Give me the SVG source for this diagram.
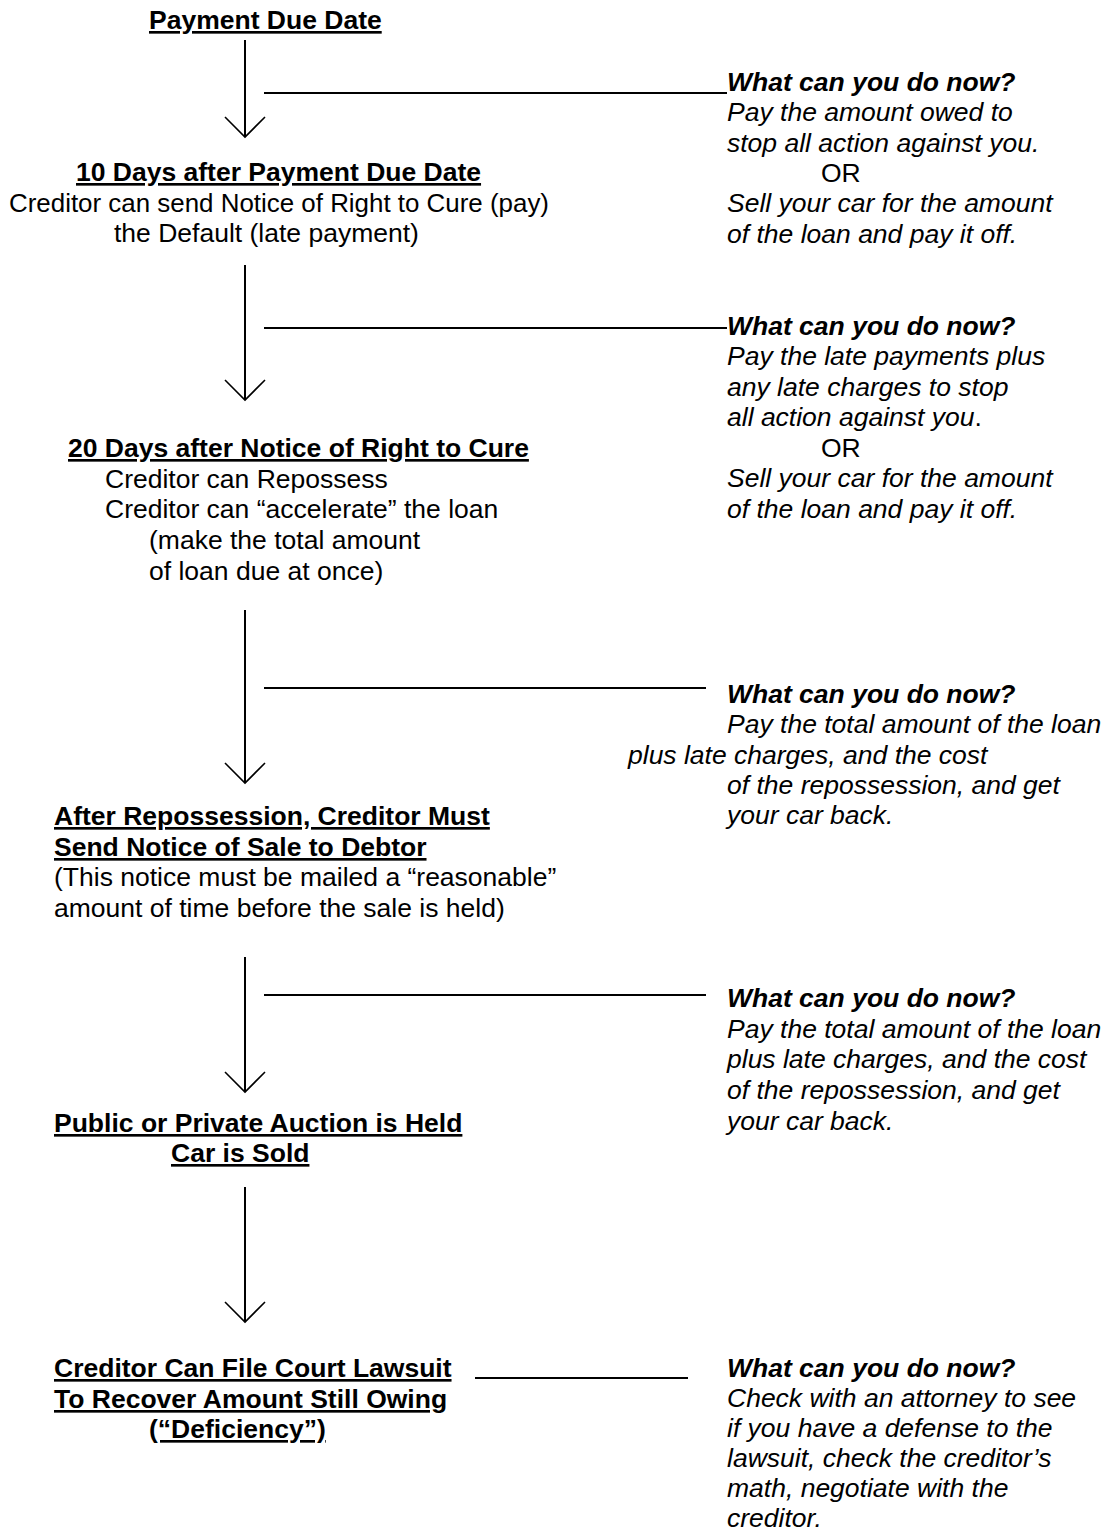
<svg xmlns="http://www.w3.org/2000/svg" width="1109" height="1532" viewBox="0 0 1109 1532">
<style>
text{font-family:"Liberation Sans",Arial,sans-serif;font-size:26.5px;fill:#000}
.b{font-weight:bold;text-decoration:underline}
.i{font-style:italic}
.bi{font-style:italic;font-weight:bold}
.ln{stroke:#000;stroke-width:2;fill:none}
.hd{stroke:#000;stroke-width:1.6;fill:none}
</style>
<rect width="1109" height="1532" fill="#fff"/>
<g id="connectors">
<line class="ln" x1="245" y1="40" x2="245" y2="137"/>
<polyline class="hd" points="225,117 245,137 265,117"/>
<line class="ln" x1="264" y1="93" x2="727" y2="93"/>
<line class="ln" x1="245" y1="265" x2="245" y2="400"/>
<polyline class="hd" points="225,380 245,400 265,380"/>
<line class="ln" x1="264" y1="328" x2="727" y2="328"/>
<line class="ln" x1="245" y1="610" x2="245" y2="783"/>
<polyline class="hd" points="225,763 245,783 265,763"/>
<line class="ln" x1="264" y1="688" x2="706" y2="688"/>
<line class="ln" x1="245" y1="957" x2="245" y2="1092"/>
<polyline class="hd" points="225,1072 245,1092 265,1072"/>
<line class="ln" x1="264" y1="995" x2="706" y2="995"/>
<line class="ln" x1="245" y1="1187" x2="245" y2="1322"/>
<polyline class="hd" points="225,1302 245,1322 265,1302"/>
<line class="ln" x1="475" y1="1378" x2="688" y2="1378"/>
</g>
<g id="n1"><text class="b" x="149" y="29">Payment Due Date</text></g>
<g id="n2">
<text class="b" x="76" y="181">10 Days after Payment Due Date</text>
<text x="9" y="212" textLength="540" lengthAdjust="spacingAndGlyphs">Creditor can send Notice of Right to Cure (pay)</text>
<text x="114" y="242">the Default (late payment)</text>
</g>
<g id="n3">
<text class="b" x="68" y="457">20 Days after Notice of Right to Cure</text>
<text x="105" y="488">Creditor can Repossess</text>
<text x="105" y="518">Creditor can “accelerate” the loan</text>
<text x="149" y="549">(make the total amount</text>
<text x="149" y="580">of loan due at once)</text>
</g>
<g id="n4">
<text class="b" x="54" y="825">After Repossession, Creditor Must</text>
<text class="b" x="54" y="856">Send Notice of Sale to Debtor</text>
<text x="54" y="886">(This notice must be mailed a “reasonable”</text>
<text x="54" y="917">amount of time before the sale is held)</text>
</g>
<g id="n5">
<text class="b" x="54" y="1132">Public or Private Auction is Held</text>
<text class="b" x="171" y="1162">Car is Sold</text>
</g>
<g id="n6">
<text class="b" x="54" y="1377">Creditor Can File Court Lawsuit</text>
<text class="b" x="54" y="1408">To Recover Amount Still Owing</text>
<text class="b" x="149" y="1438">(“Deficiency”)</text>
</g>
<g id="a1">
<text class="bi" x="727" y="91">What can you do now?</text>
<text class="i" x="727" y="121">Pay the amount owed to</text>
<text class="i" x="727" y="152">stop all action against you.</text>
<text x="821" y="182">OR</text>
<text class="i" x="727" y="212">Sell your car for the amount</text>
<text class="i" x="727" y="243">of the loan and pay it off.</text>
</g>
<g id="a2">
<text class="bi" x="727" y="335">What can you do now?</text>
<text class="i" x="727" y="365">Pay the late payments plus</text>
<text class="i" x="727" y="396">any late charges to stop</text>
<text class="i" x="727" y="426">all action against you<tspan font-style="normal">.</tspan></text>
<text x="821" y="457">OR</text>
<text class="i" x="727" y="487">Sell your car for the amount</text>
<text class="i" x="727" y="518">of the loan and pay it off.</text>
</g>
<g id="a3">
<text class="bi" x="727" y="703">What can you do now?</text>
<text class="i" x="727" y="733">Pay the total amount of the loan</text>
<text class="i" x="628" y="764">plus late charges, and the cost</text>
<text class="i" x="727" y="794">of the repossession, and get</text>
<text class="i" x="727" y="824">your car back.</text>
</g>
<g id="a4">
<text class="bi" x="727" y="1007">What can you do now?</text>
<text class="i" x="727" y="1038">Pay the total amount of the loan</text>
<text class="i" x="727" y="1068">plus late charges, and the cost</text>
<text class="i" x="727" y="1099">of the repossession, and get</text>
<text class="i" x="727" y="1130">your car back.</text>
</g>
<g id="a5">
<text class="bi" x="727" y="1377">What can you do now?</text>
<text class="i" x="727" y="1407">Check with an attorney to see</text>
<text class="i" x="727" y="1437">if you have a defense to the</text>
<text class="i" x="727" y="1467">lawsuit, check the creditor’s</text>
<text class="i" x="727" y="1497">math, negotiate with the</text>
<text class="i" x="727" y="1527">creditor.</text>
</g>
</svg>
